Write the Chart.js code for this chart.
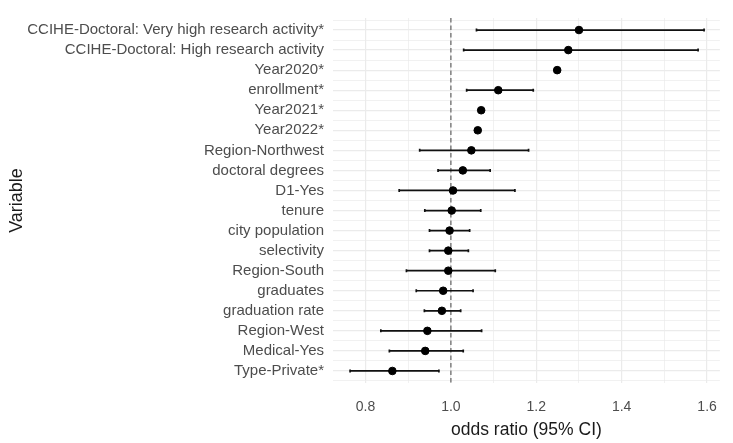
<!DOCTYPE html>
<html>
<head>
<meta charset="utf-8">
<script src="https://cdn.jsdelivr.net/npm/chart.js@4"></script>
<style>
  html, body { margin: 0; padding: 0; background: #fff; }
  #wrap { width: 733px; height: 443px; }
</style>
</head>
<body>
<div id="wrap"><canvas id="chart" width="733" height="443"></canvas></div>
<script>
const variables = [
  'CCIHE-Doctoral: Very high research activity*',
  'CCIHE-Doctoral: High research activity',
  'Year2020*',
  'enrollment*',
  'Year2021*',
  'Year2022*',
  'Region-Northwest',
  'doctoral degrees',
  'D1-Yes',
  'tenure',
  'city population',
  'selectivity',
  'Region-South',
  'graduates',
  'graduation rate',
  'Region-West',
  'Medical-Yes',
  'Type-Private*'
];
const oddsRatio = [1.300, 1.275, 1.249, 1.111, 1.071, 1.063, 1.048, 1.028, 1.005, 1.002, 0.997, 0.994, 0.994, 0.982, 0.979, 0.945, 0.940, 0.863];
const ciLow  = [1.060, 1.030, 1.245, 1.037, 1.068, 1.059, 0.927, 0.970, 0.879, 0.939, 0.950, 0.950, 0.896, 0.919, 0.938, 0.836, 0.856, 0.764];
const ciHigh = [1.593, 1.579, 1.254, 1.193, 1.075, 1.067, 1.182, 1.092, 1.150, 1.070, 1.044, 1.041, 1.104, 1.052, 1.023, 1.072, 1.029, 0.972];
const xMajor = [0.8, 1.0, 1.2, 1.4, 1.6];
const xMinor = [0.9, 1.1, 1.3, 1.5];
const refLine = 1.0;

const points = variables.map((v, i) => ({ x: oddsRatio[i], y: i + 1 }));

// error bars + dashed reference line, drawn through the chart scales
const forestPlugin = {
  id: 'forest',
  beforeDatasetsDraw(chart) {
    const { ctx, chartArea, scales: { x, y } } = chart;
    ctx.save();
    const rx = x.getPixelForValue(refLine);
    ctx.strokeStyle = '#7f7f7f';
    ctx.lineWidth = 1.5;
    ctx.setLineDash([4.5, 3]);
    ctx.beginPath();
    ctx.moveTo(rx, chartArea.top);
    ctx.lineTo(rx, chartArea.bottom);
    ctx.stroke();
    ctx.setLineDash([]);
    ctx.strokeStyle = '#111';
    ctx.lineWidth = 1.7;
    variables.forEach((v, i) => {
      const py = y.getPixelForValue(i + 1);
      const x1 = x.getPixelForValue(ciLow[i]);
      const x2 = x.getPixelForValue(ciHigh[i]);
      ctx.beginPath();
      ctx.moveTo(x1, py); ctx.lineTo(x2, py);
      ctx.moveTo(x1, py - 1.5); ctx.lineTo(x1, py + 1.5);
      ctx.moveTo(x2, py - 1.5); ctx.lineTo(x2, py + 1.5);
      ctx.stroke();
    });
    ctx.restore();
  }
};

const isMajorX = v => xMajor.some(t => Math.abs(t - v) < 1e-6);
const FONT = 'Liberation Sans, Arial, sans-serif';

new Chart(document.getElementById('chart'), {
  type: 'scatter',
  data: {
    datasets: [{
      data: points,
      backgroundColor: '#000',
      borderColor: '#000',
      pointRadius: 3.8,
      pointHoverRadius: 3.8
    }]
  },
  options: {
    responsive: false,
    animation: false,
    layout: { padding: { top: 12, right: 6, left: 0, bottom: 0 } },
    plugins: { legend: { display: false }, tooltip: { enabled: false } },
    scales: {
      x: {
        type: 'linear',
        min: 0.724,
        max: 1.630,
        afterBuildTicks: s => { s.ticks = [...xMajor, ...xMinor].sort((a, b) => a - b).map(v => ({ value: v })); },
        afterFit: s => { s.height = 60; },
        ticks: {
          color: '#4d4d4d',
          font: { family: FONT, size: 14 },
          padding: 16,
          maxRotation: 0,
          callback: v => isMajorX(v) ? v.toFixed(1) : ''
        },
        grid: {
          drawTicks: false,
          color: '#ebebeb',
          lineWidth: c => isMajorX(c.tick.value) ? 1.2 : 0.7
        },
        border: { display: false },
        title: {
          display: true,
          text: 'odds ratio (95% CI)',
          color: '#1a1a1a',
          font: { family: FONT, size: 17.5 },
          padding: { top: 0, bottom: 2 }
        }
      },
      y: {
        type: 'linear',
        reverse: true,
        min: 0.4,
        max: 18.6,
        afterBuildTicks: s => {
          const t = [];
          for (let v = 0.5; v <= 18.5; v += 0.5) t.push({ value: v });
          s.ticks = t;
        },
        afterFit: s => { s.width = 333; },
        ticks: {
          color: '#4d4d4d',
          font: { family: FONT, size: 15 },
          padding: 9,
          autoSkip: false,
          callback: v => Number.isInteger(v) ? variables[v - 1] : ''
        },
        grid: {
          drawTicks: false,
          color: '#ebebeb',
          lineWidth: c => Number.isInteger(c.tick.value) ? 1.2 : 0.7
        },
        border: { display: false },
        title: {
          display: true,
          text: 'Variable',
          color: '#1a1a1a',
          font: { family: FONT, size: 18 },
          padding: { top: 6, bottom: 0 }
        }
      }
    }
  },
  plugins: [forestPlugin]
});
</script>
</body>
</html>
